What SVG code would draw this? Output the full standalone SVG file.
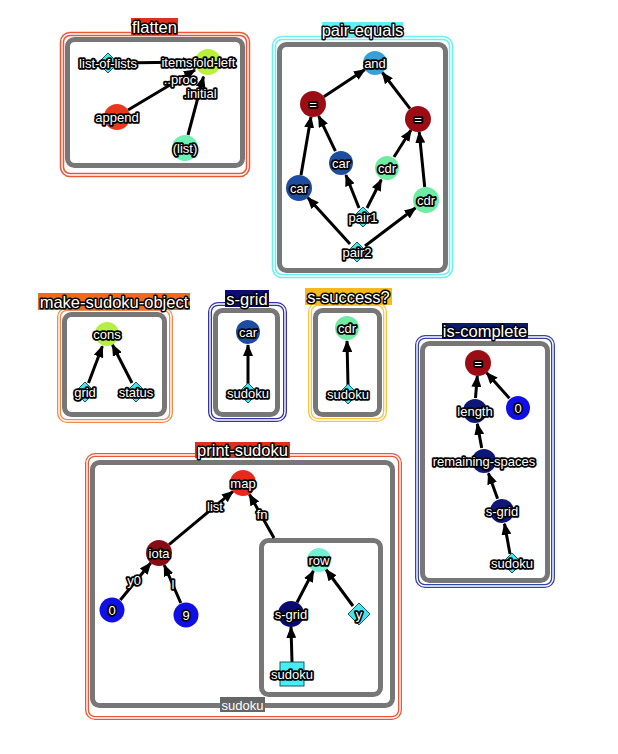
<svg xmlns="http://www.w3.org/2000/svg" width="618" height="754" viewBox="0 0 618 754">
<defs>
<marker id="ah" markerUnits="userSpaceOnUse" markerWidth="12" markerHeight="10" refX="11" refY="5" orient="auto">
<path d="M0,0 L12,5 L0,10 z" fill="#000"/>
</marker>
<style>
.t{font-family:"Liberation Sans",Arial,sans-serif;font-size:13px;fill:#fff;stroke:#000;stroke-width:3.6;paint-order:stroke;stroke-linejoin:round;text-anchor:middle;dominant-baseline:central}
.ti{font-family:"Liberation Sans",Arial,sans-serif;font-size:16.5px;fill:#fff;stroke:#000;stroke-width:3;paint-order:stroke;stroke-linejoin:round;text-anchor:middle;dominant-baseline:central}
.gray{fill:#fff;stroke:#777;stroke-width:5}
.in{fill:none;stroke:#fff;stroke-width:1.4}
.e{stroke:#000;stroke-width:3;fill:none;marker-end:url(#ah)}
.dia{fill:#44e6ee;stroke:#145a60;stroke-width:1}
</style>
</defs>
<rect width="618" height="754" fill="#fff"/>

<!-- frames -->
<g id="flatten">
<rect x="62" y="34" width="186" height="141" rx="8" fill="#fff" stroke="#e85838" stroke-width="4.5"/>
<rect x="62" y="34" width="186" height="141" rx="8" class="in"/>
<rect x="67.5" y="39.5" width="175" height="126" rx="7" class="gray"/>
<rect x="131" y="18" width="47" height="17" fill="#e0301c"/>
<text class="ti" x="154.5" y="26.5">flatten</text>
</g>
<g id="pair-equals">
<rect x="274" y="38" width="177" height="238" rx="8" fill="#fff" stroke="#6af0f2" stroke-width="4.5"/>
<rect x="274" y="38" width="177" height="238" rx="8" class="in"/>
<rect x="279.5" y="44.5" width="166" height="226" rx="7" class="gray"/>
<rect x="322" y="22" width="81" height="16" fill="#5ef0f2"/>
<text class="ti" x="362.5" y="30">pair-equals</text>
</g>
<g id="make-sudoku-object">
<rect x="59" y="309" width="112" height="112" rx="8" fill="#fff" stroke="#f58a48" stroke-width="4"/>
<rect x="59" y="309" width="112" height="112" rx="8" class="in"/>
<rect x="64.5" y="314.5" width="100" height="100" rx="7" class="gray"/>
<rect x="38" y="293" width="152" height="17" fill="#ee6a1c"/>
<text class="ti" x="114" y="301.5">make-sudoku-object</text>
</g>
<g id="s-grid">
<rect x="210" y="304" width="75" height="116" rx="8" fill="#fff" stroke="#3434a8" stroke-width="4"/>
<rect x="210" y="304" width="75" height="116" rx="8" class="in"/>
<rect x="215.5" y="310.5" width="62" height="104" rx="7" class="gray"/>
<rect x="225" y="290" width="44" height="17" fill="#0c0c72"/>
<text class="ti" x="247" y="298.5">s-grid</text>
</g>
<g id="s-success">
<rect x="310" y="304" width="75" height="116" rx="8" fill="#fff" stroke="#f8c43c" stroke-width="4"/>
<rect x="310" y="304" width="75" height="116" rx="8" class="in"/>
<rect x="315.5" y="310.5" width="64" height="104" rx="7" class="gray"/>
<rect x="305" y="288" width="87" height="17" fill="#f5b81e"/>
<text class="ti" x="348.5" y="296.5">s-success?</text>
</g>
<g id="is-complete">
<rect x="417" y="337" width="136" height="249" rx="8" fill="#fff" stroke="#3444a8" stroke-width="4"/>
<rect x="417" y="337" width="136" height="249" rx="8" class="in"/>
<rect x="422.5" y="343.5" width="125" height="237" rx="7" class="gray"/>
<rect x="442" y="323" width="86" height="16" fill="#0c1a6e"/>
<text class="ti" x="485" y="331">is-complete</text>
</g>
<g id="print-sudoku">
<rect x="87" y="455" width="313" height="263" rx="8" fill="#fff" stroke="#e85838" stroke-width="4"/>
<rect x="87" y="455" width="313" height="263" rx="8" class="in"/>
<rect x="92.5" y="462.5" width="300" height="243" rx="7" class="gray"/>
<rect x="195" y="442" width="95" height="16" fill="#e0301c"/>
<text class="ti" x="242.5" y="450">print-sudoku</text>
<rect x="261.5" y="540.5" width="119" height="154" rx="7" class="gray"/>
</g>

<!-- connectors -->
<g id="connectors">
<line class="e" x1="118" y1="63" x2="194" y2="62"/>
<line class="e" x1="128" y1="110" x2="195" y2="70"/>
<line class="e" x1="188" y1="135" x2="203.5" y2="76.6"/>

<line class="e" x1="323.8" y1="96.8" x2="365" y2="69.6"/>
<line class="e" x1="410" y1="108.7" x2="382.3" y2="72.5"/>
<line class="e" x1="301" y1="175" x2="311" y2="116.8"/>
<line class="e" x1="335.4" y1="151.2" x2="318.6" y2="115.8"/>
<line class="e" x1="394" y1="157" x2="411" y2="130"/>
<line class="e" x1="424.7" y1="187" x2="419.2" y2="132"/>
<line class="e" x1="359" y1="208" x2="345.9" y2="175"/>
<line class="e" x1="367" y1="208" x2="381.3" y2="179.7"/>
<line class="e" x1="350" y1="244" x2="307.7" y2="197.6"/>
<line class="e" x1="365" y1="246" x2="415.6" y2="207.8"/>

<line class="e" x1="88.5" y1="383" x2="102.4" y2="346.2"/>
<line class="e" x1="132" y1="383" x2="112.4" y2="344.7"/>

<line class="e" x1="248" y1="384" x2="248" y2="345"/>
<line class="e" x1="348" y1="385" x2="347" y2="341"/>

<line class="e" x1="509.4" y1="398.3" x2="486.6" y2="372.7"/>
<line class="e" x1="475.5" y1="398" x2="477.3" y2="376"/>
<line class="e" x1="481.7" y1="448" x2="477.3" y2="423.8"/>
<line class="e" x1="497.6" y1="498.8" x2="488.4" y2="473.2"/>
<line class="e" x1="510" y1="554" x2="504.5" y2="523.7"/>

<line class="e" x1="169" y1="544.7" x2="233" y2="491.3"/>
<line class="e" x1="274" y1="538" x2="249.4" y2="494.3"/>
<line class="e" x1="120.3" y1="600" x2="150.7" y2="563"/>
<line class="e" x1="180.8" y1="603" x2="164.2" y2="565"/>
<line class="e" x1="297" y1="602.5" x2="313.5" y2="570.7"/>
<line class="e" x1="353" y1="606" x2="326" y2="569.5"/>
<line class="e" x1="292" y1="662" x2="291" y2="627"/>
</g>

<!-- nodes: flatten -->
<g id="n-list-of-lists"><polygon class="dia" points="108,53 118,63 108,73 98,63"/><text class="t" x="108" y="63">list-of-lists</text></g>
<g id="n-fold-left"><circle cx="208" cy="62" r="13" fill="#b8f03a"/><text class="t" x="214" y="62">fold-left</text></g>
<g id="n-append"><circle cx="117" cy="117" r="13" fill="#e8391c"/><text class="t" x="117" y="117">append</text></g>
<g id="n-list"><circle cx="185" cy="148" r="13" fill="#6ef0b4"/><text class="t" x="185" y="148">(list)</text></g>
<g id="l-flatten">
<text class="t" x="177" y="62">items</text>
<text class="t" x="180" y="79">..proc</text>
<text class="t" x="200" y="93">.initial</text>
</g>

<!-- pair-equals -->
<g id="n-and"><circle cx="375" cy="63" r="12" fill="#38a0d8"/><text class="t" x="375" y="63">and</text></g>
<g id="n-eqL"><circle cx="313" cy="104" r="13" fill="#9c0c14"/><text class="t" x="313" y="104">=</text></g>
<g id="n-eqR"><circle cx="418" cy="119" r="13" fill="#9c0c14"/><text class="t" x="418" y="119">=</text></g>
<g id="n-carM"><circle cx="341" cy="163" r="12" fill="#1e4c9e"/><text class="t" x="341" y="163">car</text></g>
<g id="n-cdrM"><circle cx="387" cy="168" r="12" fill="#6eeca4"/><text class="t" x="387" y="168">cdr</text></g>
<g id="n-carL"><circle cx="299" cy="188" r="13" fill="#1e4c9e"/><text class="t" x="299" y="188">car</text></g>
<g id="n-cdrR"><circle cx="426" cy="200" r="13" fill="#6eeca4"/><text class="t" x="426" y="200">cdr</text></g>
<g id="n-pair1"><polygon class="dia" points="363,207 373,217 363,227 353,217"/><text class="t" x="363" y="217">pair1</text></g>
<g id="n-pair2"><polygon class="dia" points="357,242 367,252 357,262 347,252"/><text class="t" x="357" y="252">pair2</text></g>

<!-- make-sudoku-object -->
<g id="n-cons"><circle cx="107" cy="334" r="12" fill="#b6f03e"/><text class="t" x="107" y="334">cons</text></g>
<g id="n-grid"><polygon class="dia" points="85,382 95,392 85,402 75,392"/><text class="t" x="85" y="392">grid</text></g>
<g id="n-status"><polygon class="dia" points="136,382 146,392 136,402 126,392"/><text class="t" x="136" y="392">status</text></g>

<!-- s-grid -->
<g id="n-sg-car"><circle cx="248" cy="332" r="12" fill="#1e4c9e"/><text class="t" x="248" y="332">car</text></g>
<g id="n-sg-sudoku"><polygon class="dia" points="248,383 258,393 248,403 238,393"/><text class="t" x="248" y="393">sudoku</text></g>

<!-- s-success? -->
<g id="n-ss-cdr"><circle cx="347" cy="328" r="12" fill="#6eeca4"/><text class="t" x="347" y="328">cdr</text></g>
<g id="n-ss-sudoku"><polygon class="dia" points="348,384 358,394 348,404 338,394"/><text class="t" x="348" y="394">sudoku</text></g>

<!-- is-complete -->
<g id="n-ic-eq"><circle cx="478" cy="363" r="13" fill="#9c0c14"/><text class="t" x="478" y="363">=</text></g>
<g id="n-ic-0"><circle cx="518" cy="408" r="12" fill="#1010e6"/><text class="t" x="518" y="408">0</text></g>
<g id="n-ic-length"><circle cx="475" cy="411" r="12" fill="#0e1678"/><text class="t" x="475" y="411">length</text></g>
<g id="n-ic-rem"><circle cx="484" cy="461" r="12" fill="#0e1678"/><text class="t" x="484" y="461">remaining-spaces</text></g>
<g id="n-ic-sgrid"><circle cx="502" cy="511" r="12" fill="#0e1678"/><text class="t" x="502" y="511">s-grid</text></g>
<g id="n-ic-sudoku"><polygon class="dia" points="512,553 522,563 512,573 502,563"/><text class="t" x="512" y="563">sudoku</text></g>

<!-- print-sudoku -->
<g id="n-map"><circle cx="243" cy="483" r="13" fill="#e82a1a"/><text class="t" x="243" y="483">map</text></g>
<g id="n-iota"><circle cx="159" cy="553" r="13" fill="#880c14"/><text class="t" x="159" y="553">iota</text></g>
<g id="n-ps-0"><circle cx="112" cy="610" r="12.5" fill="#1010e6"/><text class="t" x="112" y="610">0</text></g>
<g id="n-ps-9"><circle cx="186" cy="615" r="12.5" fill="#1010e6"/><text class="t" x="186" y="615">9</text></g>
<g id="n-row"><circle cx="319" cy="560" r="12" fill="#74f0d2"/><text class="t" x="319" y="560">row</text></g>
<g id="n-ps-sgrid"><circle cx="291" cy="614" r="13" fill="#0a0a70"/><text class="t" x="291" y="614">s-grid</text></g>
<g id="n-y"><polygon class="dia" points="359,603 370,614 359,625 348,614"/><text class="t" x="359" y="614">y</text></g>
<g id="n-ps-sudoku"><rect x="280" y="662" width="24" height="24" fill="#44eef4" stroke="#145a60" stroke-width="1"/><text class="t" x="292" y="674">sudoku</text></g>
<g id="l-print">
<text class="t" x="215" y="506">list</text>
<text class="t" x="262" y="514">fn</text>
<text class="t" x="134" y="580">y0</text>
<text class="t" x="173" y="584">l</text>
</g>
<g id="n-lambda-param"><rect x="220" y="697" width="45" height="15" fill="#666"/><text x="242.5" y="705" font-family="Liberation Sans,Arial,sans-serif" font-size="13" fill="#fff" text-anchor="middle" dominant-baseline="central">sudoku</text></g>
</svg>
